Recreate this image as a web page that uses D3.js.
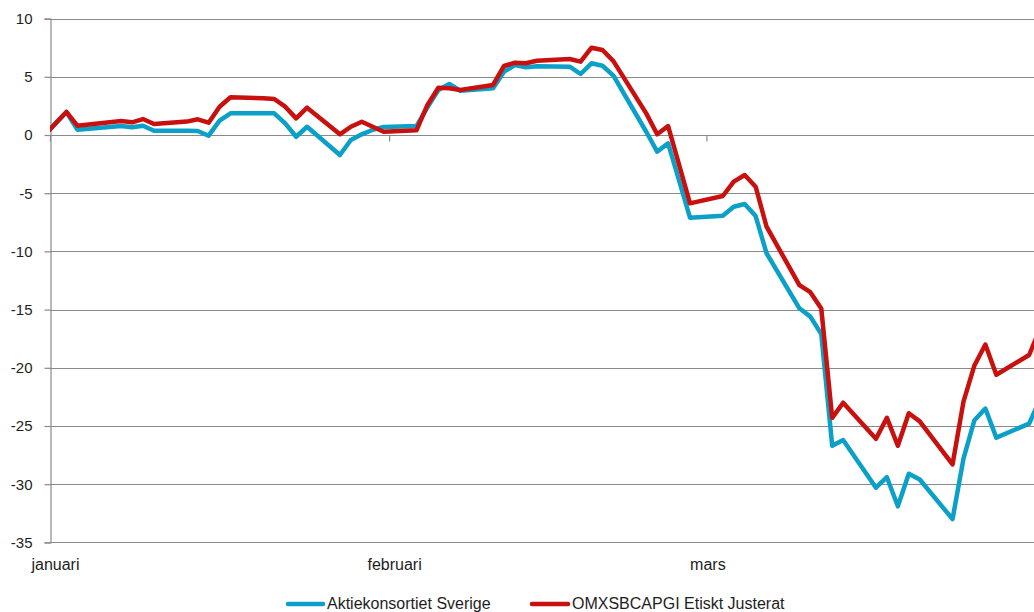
<!DOCTYPE html>
<html>
<head>
<meta charset="utf-8">
<script src="https://cdn.jsdelivr.net/npm/d3@7"></script>
<style>
  html, body { margin: 0; padding: 0; background: #fff; }
  svg { display: block; }
  text { font-family: "Liberation Sans", Arial, sans-serif; fill: #1e1e1e; }
</style>
</head>
<body>
<svg id="chart" width="1034" height="612"></svg>
<script>
// ---- data ----
const dates = [
  "2019-12-31","2020-01-02","2020-01-03","2020-01-07","2020-01-08","2020-01-09","2020-01-10",
  "2020-01-13","2020-01-14","2020-01-15","2020-01-16","2020-01-17",
  "2020-01-20","2020-01-21","2020-01-22","2020-01-23","2020-01-24",
  "2020-01-27","2020-01-28","2020-01-29","2020-01-30","2020-01-31",
  "2020-02-03","2020-02-04","2020-02-05","2020-02-06","2020-02-07",
  "2020-02-10","2020-02-11","2020-02-12","2020-02-13","2020-02-14",
  "2020-02-17","2020-02-18","2020-02-19","2020-02-20","2020-02-21",
  "2020-02-24","2020-02-25","2020-02-26","2020-02-27","2020-02-28",
  "2020-03-02","2020-03-03","2020-03-04","2020-03-05","2020-03-06",
  "2020-03-09","2020-03-10","2020-03-11","2020-03-12","2020-03-13",
  "2020-03-16","2020-03-17","2020-03-18","2020-03-19","2020-03-20",
  "2020-03-23","2020-03-24","2020-03-25","2020-03-26","2020-03-27",
  "2020-03-30","2020-03-31"
];
const aktiekonsortiet = [
  0, 1.98, 0.46, 0.77, 0.66, 0.80, 0.37,
  0.36, 0.34, -0.06, 1.23, 1.86,
  1.86, 1.86, 1.00, -0.15, 0.71,
  -1.72, -0.43, 0.06, 0.45, 0.69,
  0.77, 2.38, 3.87, 4.38, 3.80,
  4.01, 5.44, 6.01, 5.81, 5.90,
  5.87, 5.24, 6.16, 5.95, 5.10,
  0.28, -1.43, -0.71, -3.90, -7.10,
  -6.93, -6.16, -5.93, -6.96, -10.16,
  -14.89, -15.60, -17.10, -26.70, -26.20,
  -30.30, -29.40, -31.90, -29.10, -29.60,
  -33.00, -27.80, -24.50, -23.50, -26.00,
  -24.80, -22.70
];
const omxsbcapgi = [
  0, 1.98, 0.80, 1.20, 1.09, 1.37, 0.95,
  1.15, 1.35, 1.06, 2.43, 3.24,
  3.15, 3.09, 2.43, 1.43, 2.35,
  0.06, 0.71, 1.14, 0.71, 0.28,
  0.40, 2.58, 4.06, 4.01, 3.87,
  4.30, 5.93, 6.21, 6.16, 6.38,
  6.53, 6.30, 7.50, 7.30, 6.35,
  1.86, 0.06, 0.77, -2.55, -5.87,
  -5.24, -4.00, -3.44, -4.44, -7.88,
  -12.89, -13.50, -14.90, -24.30, -23.00,
  -26.10, -24.30, -26.70, -23.90, -24.60,
  -28.30, -22.90, -19.80, -18.00, -20.60,
  -18.90, -16.60
];
const seriesNames = ["Aktiekonsortiet Sverige", "OMXSBCAPGI Etiskt Justerat"];
const seriesColors = ["#0aa0c8", "#c8100e"];
const yTicks = [10, 5, 0, -5, -10, -15, -20, -25, -30, -35];
const monthStarts = ["2020-01-01", "2020-02-01", "2020-03-01"];
const monthLabels = ["januari", "februari", "mars"];

// ---- layout ----
const svg = d3.select("#chart");
const W = 1034, H = 612;
const plotLeft = 50, plotTop = 18.6, plotBottom = 542.4;
const half = 12 * 3600 * 1000;
const parse = d3.utcParse("%Y-%m-%d");

const x = d3.scaleUtc()
  .domain([new Date(+parse("2020-01-01") - half), new Date(+parse("2020-03-31") + half)])
  .range([plotLeft, plotLeft + 91 * 10.94]);
const y = d3.scaleLinear().domain([-35, 10]).range([plotBottom, plotTop]);

// gridlines
svg.append("g").selectAll("line").data(yTicks).join("line")
  .attr("x1", plotLeft).attr("x2", W + 20)
  .attr("y1", d => Math.round(y(d)) + 0.5).attr("y2", d => Math.round(y(d)) + 0.5)
  .attr("stroke", "#8a8a8a").attr("stroke-width", 1.2);

// y axis
const yAxis = svg.append("g").attr("transform", `translate(${plotLeft + 0.5},0)`)
  .call(d3.axisLeft(y).tickValues(yTicks).tickSize(6).tickPadding(12).tickFormat(d => String(d)));
yAxis.select(".domain").attr("stroke", "#8a8a8a").attr("stroke-width", 1.2);
yAxis.selectAll(".tick line").attr("stroke", "#8a8a8a").attr("stroke-width", 1.2);
yAxis.selectAll(".tick text").attr("font-size", 15).attr("fill", "#1e1e1e")
  .attr("font-family", "'Liberation Sans', Arial, sans-serif");

// x axis (at zero line) with month boundary ticks
const boundaryTicks = monthStarts.map(s => new Date(+parse(s) - half));
const xAxis = svg.append("g").attr("transform", `translate(0,${Math.round(y(0)) + 0.5})`)
  .call(d3.axisBottom(x).tickValues(boundaryTicks).tickSize(6).tickFormat(""));
xAxis.select(".domain").remove();
xAxis.selectAll(".tick line").attr("stroke", "#8a8a8a").attr("stroke-width", 1.2);

// month labels at bottom
svg.append("g").selectAll("text").data(monthStarts).join("text")
  .attr("x", d => x(parse(d)) - (d === "2020-03-01" ? 4 : 0))
  .attr("y", 570)
  .attr("text-anchor", "middle")
  .attr("font-size", 16)
  .text((d, i) => monthLabels[i]);

// clip for lines
svg.append("clipPath").attr("id", "plotclip").append("rect")
  .attr("x", plotLeft).attr("y", 0).attr("width", W + 50).attr("height", H);

const line = d3.line().x(d => x(d[0])).y(d => y(d[1]));
const parsedDates = dates.map(parse);
const seriesData = [aktiekonsortiet, omxsbcapgi].map(vals => parsedDates.map((dt, i) => [dt, vals[i]]));

svg.append("g").attr("clip-path", "url(#plotclip)")
  .selectAll("path").data(seriesData).join("path")
  .attr("d", line)
  .attr("fill", "none")
  .attr("stroke", (d, i) => seriesColors[i])
  .attr("stroke-width", 4.5)
  .attr("stroke-linejoin", "round")
  .attr("stroke-linecap", "round");

// legend
const legendItems = [
  { x1: 288, x2: 323, tx: 327 },
  { x1: 532, x2: 568, tx: 572 }
];
const lg = svg.append("g");
legendItems.forEach((it, i) => {
  lg.append("line").attr("x1", it.x1).attr("x2", it.x2).attr("y1", 604).attr("y2", 604)
    .attr("stroke", seriesColors[i]).attr("stroke-width", 4.5).attr("stroke-linecap", "round");
  lg.append("text").attr("x", it.tx).attr("y", 609).attr("font-size", 16).text(seriesNames[i]);
});
</script>
</body>
</html>
